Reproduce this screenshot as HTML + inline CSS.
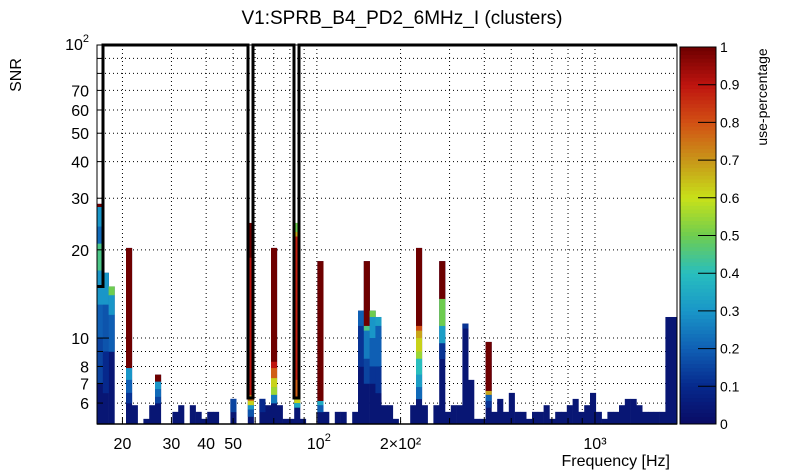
<!DOCTYPE html>
<html><head><meta charset="utf-8">
<style>
html,body{margin:0;padding:0;background:#fff;}
svg{display:block;font-family:"Liberation Sans",Arial,sans-serif;}
</style></head>
<body>
<svg id="chart" width="805" height="472" viewBox="0 0 805 472" xmlns="http://www.w3.org/2000/svg">
<text x="402" y="24" font-size="19" text-anchor="middle">V1:SPRB_B4_PD2_6MHz_I (clusters)</text>
<text transform="translate(21,75) rotate(-90)" font-size="16" text-anchor="middle">SNR</text>
<text x="670" y="466" font-size="16" text-anchor="end">Frequency [Hz]</text>
<text transform="translate(767,97) rotate(-90)" font-size="14" text-anchor="middle">use-percentage</text>
<g id="grid"></g>
<g id="bars"></g>
<g id="axes"></g>
<g id="cbar"></g>
</svg>
<script>
// ---- data ----
const binCount = 100;
const freqMin = 16.2;
const freqMax = 1972;
const snrMin = 5.09;
const snrMax = 100;
const barBins = [0,1,2,5,6,8,9,10,13,14,16,17,18,19,20,23,26,28,29,30,31,32,33,34,35,38,39,41,42,44,45,46,47,48,49,50,51,54,55,56,58,59,60,61,62,63,64,65,66,67,68,69,70,71,72,73,74,75,76,77,78,79,80,81,82,83,84,85,86,87,88,89,90,91,92,93,94,95,96,97,98,99];
const barTops = [28.7,16.7,15.0,20.3,5.9,5.3,5.9,7.5,5.6,5.9,5.9,5.6,5.3,5.6,5.6,6.2,24.7,6.2,5.9,20.3,5.9,5.3,5.3,24.7,5.3,18.3,5.6,5.6,5.6,5.6,12.4,18.3,12.4,11.8,5.9,5.9,5.3,5.9,20.3,5.9,5.9,18.3,5.6,5.9,5.9,11.2,7.2,5.3,5.3,9.7,5.6,6.2,5.6,6.5,5.6,5.6,5.3,5.6,5.6,5.9,5.3,5.6,5.6,5.9,6.2,5.6,5.9,6.5,5.6,5.3,5.6,5.6,5.9,6.2,6.2,5.9,5.6,5.6,5.6,5.6,11.8,11.8];
// colored segments: bin, low SNR, high SNR, use-percentage
const segBins = [0,0,0,0,0,0,0, 1,1,1, 2,2,2, 5,5,5,5, 10,10,10,10, 23, 26,26,26,26,26,26, 28, 30,30,30,30,30,30, 34,34,34,34,34,34, 38,38,38, 45,45, 46,46,46,46, 47,47,47,47, 48,48,48, 55,55,55,55,55,55,55,55, 59,59,59,59, 63, 67,67,67,67];
const segLo =   [28,24,21,17,13,10,7, 13,9,6.5, 14,12,9, 7.9,7.2,6.5,6, 7.1,6.7,6.3,6, 5.6, 18.8,6.4,6.1,5.9,5.7,5.4, 5.6, 8.3,7.9,7.3,6.8,6.4,6.0, 23,22.2,7.2,6.3,6.0,5.8, 6.1,5.9,5.6, 11,8, 11,10.6,8.5,7, 11.8,10,8,7, 11,8,6.5, 11,10.6,10,9,8.5,7.5,6.8,6.2, 13.6,11,9.6,8.5, 10.8, 6.6,6.4,6.1,5.8];
const segHi =   [28.7,28,24,21,17,13,10, 16.7,13,9, 15,14,12, 20.3,7.9,7.2,6.5, 7.5,7.1,6.7,6.3, 6.2, 24.7,18.8,6.4,6.1,5.9,5.7, 6.2, 20.3,8.3,7.9,7.3,6.8,6.4, 24.7,23,22.2,7.2,6.3,6.0, 18.3,6.1,5.9, 12.4,11, 18.3,11,10.6,8.5, 12.4,11.8,10,8, 11.8,11,8, 20.3,11,10.6,10,9,8.5,7.5,6.8, 18.3,13.6,11,9.6, 11.2, 9.7,6.6,6.4,6.1];
const segUse =  [1,0.3,0.22,0.45,0.3,0.2,0.15, 0.3,0.18,0.1, 0.5,0.3,0.2, 1,0.3,0.2,0.12, 1,0.3,0.22,0.15, 0.15, 1,0.9,0.75,0.62,0.3,0.18, 0.1, 1,0.9,0.78,0.62,0.55,0.25, 0.5,0.68,0.88,0.78,0.62,0.35, 1,0.35,0.2, 0.2,0.12, 1,0.45,0.25,0.15, 0.5,0.3,0.2,0.12, 0.32,0.2,0.12, 1,0.8,0.68,0.62,0.55,0.4,0.32,0.22, 1,0.5,0.32,0.12, 0.12, 1,0.68,0.2,0.12];
const yTicks = [6,7,8,10,20,30,40,50,60,70];
const yTickLabels = ["6","7","8","10","20","30","40","50","60","70"];
const xTicks = [20,30,40,50,200,1000];
const xTickLabels = ["20","30","40","50","2×10²","10³"];
const cbTicks = [0,0.1,0.2,0.3,0.4,0.5,0.6,0.7,0.8,0.9,1];
const cbLabels = ["0","0.1","0.2","0.3","0.4","0.5","0.6","0.7","0.8","0.9","1"];

// ---- layout ----
const PL=97, PR=677, PT=45, PB=424;
const NS="http://www.w3.org/2000/svg";
function xScale(f){return PL+(PR-PL)*(Math.log10(f)-Math.log10(freqMin))/(Math.log10(freqMax)-Math.log10(freqMin));}
function yScale(v){return PB-(PB-PT)*(Math.log10(v)-Math.log10(snrMin))/(Math.log10(snrMax)-Math.log10(snrMin));}
function binEdge(i){return freqMin*Math.pow(freqMax/freqMin,i/binCount);}
const stops=[[0,10,10,100],[0.1,6,40,140],[0.2,15,95,180],[0.3,25,150,200],[0.4,40,190,190],[0.5,110,205,80],[0.6,200,225,25],[0.7,200,150,25],[0.8,210,80,20],[0.9,190,20,15],[1,110,0,0]];
function cmap(u){u=Math.max(0,Math.min(1,u));for(let k=1;k<stops.length;k++){if(u<=stops[k][0]){const a=stops[k-1],b=stops[k],t=(u-a[0])/(b[0]-a[0]);return `rgb(${Math.round(a[1]+t*(b[1]-a[1]))},${Math.round(a[2]+t*(b[2]-a[2]))},${Math.round(a[3]+t*(b[3]-a[3]))})`;}}return "rgb(110,0,0)";}
function mk(tag,attrs,parent){const e=document.createElementNS(NS,tag);for(const k in attrs)e.setAttribute(k,attrs[k]);parent.appendChild(e);return e;}

const grid=document.getElementById('grid');
const vGrid=[20,30,40,50,60,70,80,90,100,200,300,400,500,600,700,800,900,1000];
vGrid.forEach(f=>{const l=mk('line',{x1:xScale(f),x2:xScale(f),y1:PT,y2:PB,stroke:'#000','stroke-width':1,'stroke-dasharray':'1,3'},grid);

});
const hGrid=[6,7,8,9,10,20,30,40,50,60,70,80,90];
hGrid.forEach(v=>{const l=mk('line',{x1:PL,x2:PR,y1:yScale(v),y2:yScale(v),stroke:'#000','stroke-width':1,'stroke-dasharray':'1,3'},grid);

});

const bars=document.getElementById('bars');
barBins.forEach((b,k)=>{
  const x0=xScale(binEdge(b)), x1=xScale(binEdge(b+1));
  const r=mk('rect',{x:x0,y:yScale(barTops[k]),width:x1-x0+0.3,height:PB-yScale(barTops[k]),fill:cmap(0.04)},bars);
  
  
});
segBins.forEach((b,k)=>{
  const x0=xScale(binEdge(b)), x1=xScale(binEdge(b+1));
  const r=mk('rect',{x:x0,y:yScale(segHi[k]),width:x1-x0+0.3,height:yScale(segLo[k])-yScale(segHi[k])+0.3,fill:cmap(segUse[k])},bars);
  
  
});

const axes=document.getElementById('axes');
const bracket=mk('polyline',{points:`${PL},${yScale(15)} 103,${yScale(15)} 103,${PT} 248,${PT} 248,398 253,398 253,${PT} 294,${PT} 294,398 299,398 299,${PT} ${PR},${PT}`,fill:'none',stroke:'#000','stroke-width':3},axes);


const frame=mk('rect',{x:PL,y:PT,width:PR-PL,height:PB-PT,fill:'none',stroke:'#000','stroke-width':1},axes);


mk('line',{x1:PL,x2:PR,y1:PB,y2:PB,stroke:'#000','stroke-width':1.5},axes);
hGrid.concat([100]).forEach(v=>{const major=[10,100].includes(v);mk('line',{x1:PL,x2:PL+(major?12:6),y1:yScale(v),y2:yScale(v),stroke:'#000'},axes);});
vGrid.forEach(f=>{const major=[100,1000].includes(f);mk('line',{x1:xScale(f),x2:xScale(f),y1:PB,y2:PB-(major?12:6),stroke:'#000'},axes);});
yTicks.forEach((v,k)=>{const t=mk('text',{x:89,y:yScale(v)+6,'font-size':16,'text-anchor':'end'},axes);t.textContent=yTickLabels[k];

});
const yt=mk('text',{x:89,y:yScale(100)+5,'font-size':16,'text-anchor':'end'},axes);yt.innerHTML='10<tspan font-size="11" dy="-8">2</tspan>';


xTicks.forEach((f,k)=>{const t=mk('text',{x:xScale(f),y:449,'font-size':16,'text-anchor':'middle'},axes);t.textContent=xTickLabels[k];

});
const xt=mk('text',{x:xScale(100)+2,y:449,'font-size':16,'text-anchor':'middle'},axes);xt.innerHTML='10<tspan font-size="11" dy="-8">2</tspan>';



const cb=document.getElementById('cbar');
const CX=680,CW=36,CT=47,CB=424;
for(let i=0;i<100;i++){const u0=i/100;mk('rect',{x:CX,y:CB-(i+1)*(CB-CT)/100,width:CW,height:(CB-CT)/100+0.5,fill:cmap(u0+0.005)},cb);}
mk('rect',{x:CX,y:CT,width:CW,height:CB-CT,fill:'none',stroke:'#000','stroke-width':1},cb);
cbTicks.forEach((u,k)=>{const y=CB-u*(CB-CT);mk('line',{x1:CX+CW-18,x2:CX+CW,y1:y,y2:y,stroke:'#000'},cb);
const t=mk('text',{x:720,y:y+5,'font-size':14},cb);t.textContent=cbLabels[k];

});
</script>
</body></html>
